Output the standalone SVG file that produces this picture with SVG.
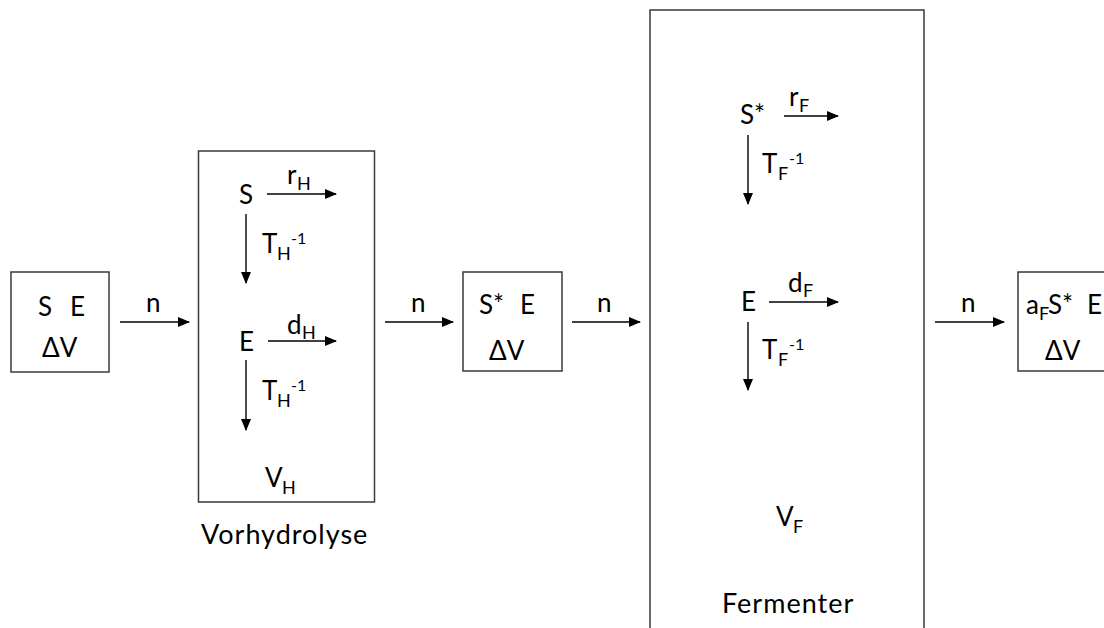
<svg xmlns="http://www.w3.org/2000/svg" width="1104" height="628" viewBox="0 0 1104 628">
<style>
.box{fill:#fff;stroke:#3a3a3a;stroke-width:1.5}
.t{font-family:Lato,"Open Sans","Liberation Sans",sans-serif;font-size:26px;fill:#000}
.sub{font-size:18px}
.sup{font-size:16px}
.lbl{font-size:27px;letter-spacing:1px}
.c{stroke:#000;stroke-width:1.4;fill:none;marker-end:url(#ah)}
</style>
<defs>
<marker id="ah" markerUnits="userSpaceOnUse" markerWidth="12" markerHeight="10" refX="11" refY="5" orient="auto">
<path d="M0,0 L12,5 L0,10 Z" fill="#000"/>
</marker>
</defs>
<rect width="1104" height="628" fill="#fff"/>

<g id="in">
<rect class="box" x="11" y="272" width="98" height="100"/>
<text class="t" x="38" y="316">S</text>
<text class="t" x="70" y="316">E</text>
<text class="t" x="42" y="357">ΔV</text>
</g>

<g id="vorhydrolyse">
<rect class="box" x="198.5" y="151" width="176" height="351"/>
<text class="t" x="239" y="204">S</text>
<text class="t" x="287" y="184">r<tspan class="sub" x="297" y="190">H</tspan></text>
<text class="t" x="262" y="253">T<tspan class="sub" x="277" y="260">H</tspan><tspan class="sup" x="291" y="244">-1</tspan></text>
<text class="t" x="239" y="351">E</text>
<text class="t" x="287" y="334">d<tspan class="sub" x="302" y="339">H</tspan></text>
<text class="t" x="262" y="400">T<tspan class="sub" x="277" y="407">H</tspan><tspan class="sup" x="291" y="391">-1</tspan></text>
<text class="t" x="265" y="487">V<tspan class="sub" x="282" y="494">H</tspan></text>
<text class="t lbl" x="201" y="544">Vorhydrolyse</text>
</g>

<g id="mid">
<rect class="box" x="463" y="272" width="99" height="99"/>
<text class="t" x="479" y="314">S*</text>
<text class="t" x="520" y="314">E</text>
<text class="t" x="489" y="360">ΔV</text>
</g>

<g id="fermenter">
<rect class="box" x="650" y="10" width="274" height="640"/>
<text class="t" x="740" y="124">S*</text>
<text class="t" x="789" y="106">r<tspan class="sub" x="799" y="112">F</tspan></text>
<text class="t" x="762" y="173">T<tspan class="sub" x="778" y="180">F</tspan><tspan class="sup" x="789" y="164">-1</tspan></text>
<text class="t" x="741" y="311">E</text>
<text class="t" x="788" y="292">d<tspan class="sub" x="803" y="297">F</tspan></text>
<text class="t" x="762" y="359">T<tspan class="sub" x="778" y="366">F</tspan><tspan class="sup" x="789" y="350">-1</tspan></text>
<text class="t" x="776" y="526">V<tspan class="sub" x="793" y="533">F</tspan></text>
<text class="t lbl" x="722" y="613">Fermenter</text>
</g>

<g id="out">
<rect class="box" x="1018" y="272" width="100" height="99"/>
<text class="t" x="1026" y="314">a<tspan class="sub" x="1039" y="320">F</tspan><tspan x="1048" y="314">S*</tspan><tspan x="1087" y="314">E</tspan></text>
<text class="t" x="1045" y="360">ΔV</text>
</g>

<g id="connectors">
<line class="c" x1="120" y1="322" x2="189" y2="322"/>
<text class="t" x="146" y="312">n</text>
<line class="c" x1="385" y1="322" x2="453" y2="322"/>
<text class="t" x="411" y="312">n</text>
<line class="c" x1="572" y1="322" x2="640" y2="322"/>
<text class="t" x="597" y="312">n</text>
<line class="c" x1="935" y1="322" x2="1004" y2="322"/>
<text class="t" x="961" y="312">n</text>
<line class="c" x1="267" y1="194" x2="336" y2="194"/>
<line class="c" x1="246" y1="214" x2="246" y2="283"/>
<line class="c" x1="268" y1="341" x2="336" y2="341"/>
<line class="c" x1="246" y1="360" x2="246" y2="430"/>
<line class="c" x1="784" y1="116" x2="838" y2="116"/>
<line class="c" x1="748" y1="135" x2="748" y2="204"/>
<line class="c" x1="769" y1="302" x2="838" y2="302"/>
<line class="c" x1="748" y1="322" x2="748" y2="390"/>
</g>
</svg>
